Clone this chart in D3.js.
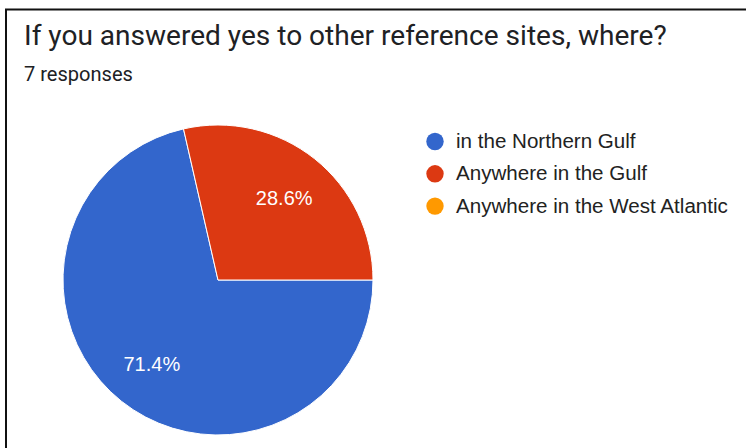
<!DOCTYPE html>
<html>
<head>
<meta charset="utf-8">
<script src="https://cdn.jsdelivr.net/npm/d3@7"></script>
<style>
  html, body { margin: 0; padding: 0; background: #fff; }
  svg { display: block; }
</style>
</head>
<body>
<div id="chart"></div>
<script>
// Data
const categories = ["in the Northern Gulf", "Anywhere in the Gulf", "Anywhere in the West Atlantic"];
const counts = [5, 2, 0];
const colors = ["#3366cc", "#dc3912", "#ff9900"];
const titleText = "If you answered yes to other reference sites, where?";
const subtitleText = "7 responses";

const WIDTH = 746, HEIGHT = 448;
const CX = 218, CY = 280, R = 155;

const svg = d3.select("#chart").append("svg")
  .attr("width", WIDTH)
  .attr("height", HEIGHT);

// Frame (top and left edges)
svg.append("path")
  .attr("d", `M6,${HEIGHT} V9.5 H${WIDTH}`)
  .attr("fill", "none")
  .attr("stroke", "#111")
  .attr("stroke-width", 2);

// fit text to measured width
const fitText = (sel, target) => {
  const w = sel.node().getComputedTextLength();
  const fs = parseFloat(sel.attr("font-size"));
  sel.attr("font-size", (fs * target / w).toFixed(2));
};

const title = svg.append("text")
  .attr("x", 24).attr("y", 45)
  .attr("font-family", "Roboto, sans-serif")
  .attr("font-size", 24)
  .attr("fill", "#202124")
  .text(titleText);
fitText(title, 643);

const sub = svg.append("text")
  .attr("x", 24).attr("y", 80.5)
  .attr("font-family", "Roboto, sans-serif")
  .attr("font-size", 18)
  .attr("fill", "#202124")
  .text(subtitleText);
fitText(sub, 109);

// Pie
const total = d3.sum(counts);
const pie = d3.pie().sort(null).value(d => d.v)
  .startAngle(Math.PI / 2).endAngle(Math.PI / 2 + 2 * Math.PI);
const arcs = pie(categories.map((c, i) => ({ c, v: counts[i], color: colors[i] })));
const arc = d3.arc().innerRadius(0).outerRadius(R);
const labelArc = d3.arc().innerRadius(R * 0.685).outerRadius(R * 0.685);

const g = svg.append("g").attr("transform", `translate(${CX},${CY})`);
g.selectAll("path.slice")
  .data(arcs.filter(d => d.value > 0))
  .enter().append("path")
  .attr("class", "slice")
  .attr("d", arc)
  .attr("fill", d => d.data.color)
  .attr("stroke", "#fff")
  .attr("stroke-width", 1);

g.selectAll("text.pct")
  .data(arcs.filter(d => d.value > 0))
  .enter().append("text")
  .attr("class", "pct")
  .attr("x", d => labelArc.centroid(d)[0])
  .attr("y", d => labelArc.centroid(d)[1] + 7.5)
  .attr("text-anchor", "middle")
  .attr("font-family", "Arial, 'Liberation Sans', sans-serif")
  .attr("font-size", 20)
  .attr("fill", "#fff")
  .text(d => d3.format(".1%")(d.value / total));

// Legend
const legend = svg.append("g");
const rows = legend.selectAll("g.row")
  .data(categories)
  .enter().append("g")
  .attr("class", "row")
  .attr("transform", (d, i) => `translate(435,${141.5 + i * 32.3})`);
rows.append("circle")
  .attr("r", 8.7)
  .attr("fill", (d, i) => colors[i]);
const ltexts = rows.append("text")
  .attr("x", 21)
  .attr("y", 6.5)
  .attr("font-family", "Arial, 'Liberation Sans', sans-serif")
  .attr("font-size", 18)
  .attr("fill", "#222")
  .text(d => d);
// scale legend font from longest label
const longest = ltexts.filter((d, i) => i === 2);
const lw = longest.node().getComputedTextLength();
ltexts.attr("font-size", (18 * 272 / lw).toFixed(2));
</script>
</body>
</html>
